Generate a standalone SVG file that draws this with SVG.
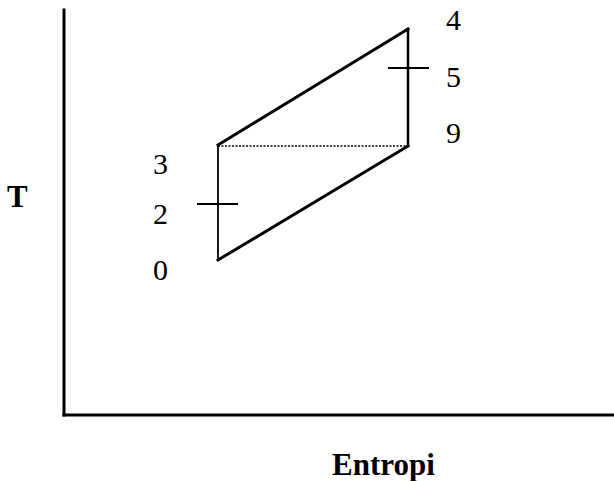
<svg xmlns="http://www.w3.org/2000/svg" width="614" height="481" viewBox="0 0 614 481">
<style>
.lbl{font-family:"Liberation Serif","Times New Roman",serif;font-size:30px;fill:#000}
.ax{font-family:"Liberation Serif","Times New Roman",serif;font-size:31px;font-weight:bold;fill:#000}
.ln{stroke:#000;fill:none;stroke-linecap:square}
</style>
<rect width="614" height="481" fill="#fff"/>
<g id="axes">
<line class="ln" x1="64" y1="10" x2="64" y2="415" stroke-width="3"/>
<line class="ln" x1="64" y1="415" x2="614" y2="415" stroke-width="3"/>
</g>
<g id="connectors">
<line class="ln" x1="218" y1="145" x2="408" y2="29" stroke-width="3"/>
<line class="ln" x1="408" y1="29" x2="408" y2="146" stroke-width="2.5"/>
<line class="ln" x1="408" y1="146" x2="218" y2="260" stroke-width="3"/>
<line class="ln" x1="218" y1="260" x2="218" y2="145" stroke-width="1.8"/>
<line x1="218" y1="146" x2="408" y2="146" stroke="#000" stroke-width="1.5" stroke-dasharray="2,1.5"/>
<line class="ln" x1="389" y1="68" x2="428" y2="68" stroke-width="2"/>
<line class="ln" x1="198" y1="204" x2="237" y2="204" stroke-width="2"/>
</g>
<g id="labels">
<text class="lbl" x="446" y="30">4</text>
<text class="lbl" x="446" y="87">5</text>
<text class="lbl" x="446" y="143">9</text>
<text class="lbl" x="153" y="174">3</text>
<text class="lbl" x="153" y="224">2</text>
<text class="lbl" x="153" y="280">0</text>
<text class="ax" x="7" y="207">T</text>
<text class="ax" x="332" y="475">Entropi</text>
</g>
</svg>
